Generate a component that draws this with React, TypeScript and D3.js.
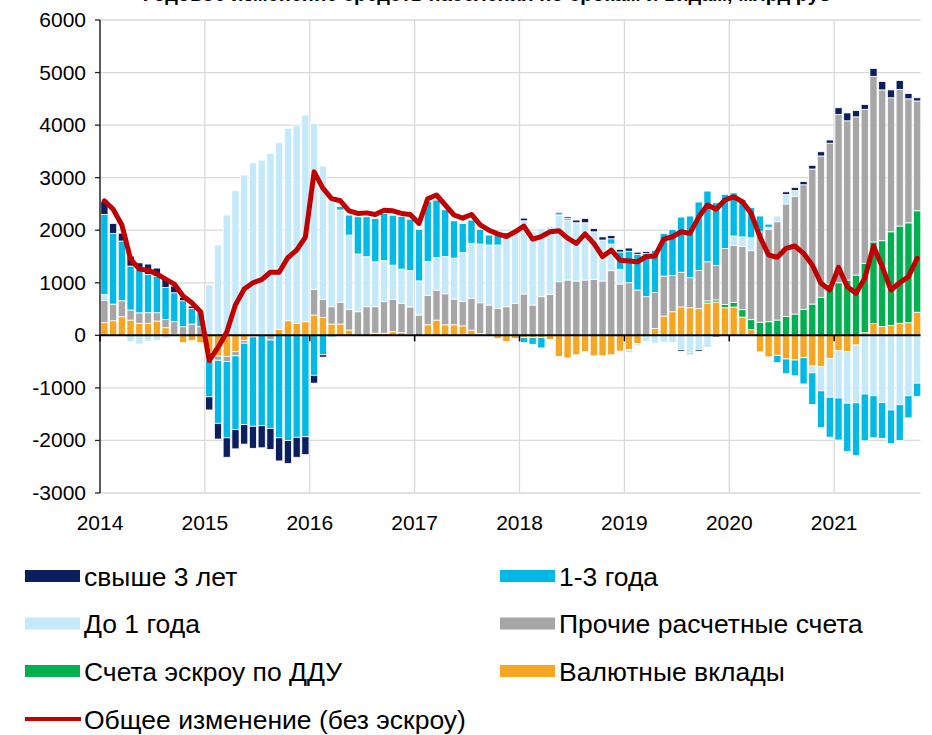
import React from "react";
import * as d3 from "d3";

const yearLabels = ["2014", "2015", "2016", "2017", "2018", "2019", "2020", "2021"];
const yTicks = [-3000, -2000, -1000, 0, 1000, 2000, 3000, 4000, 5000, 6000];

// Валютные вклады
const valuta = [240, 278, 354, 290, 228, 228, 272, 145, 20, -140, -100, -140,
  -320, -394, -400, -310, -100, -30, 0, 0, 114, 278, 228, 259,
  386, 342, 215, 215, 101, 0, 0, 40, 40, 70, 50, 20,
  0, 200, 290, 200, 200, 180, 100, 30, 0, -60, -120, -60,
  -40, -40, -40, -80, -400, -430, -370, -310, -390, -390, -370, -300,
  -270, -160, 0, 133, 367, 449, 540, 525, 507, 615, 634, 525,
  538, 348, 108, -315, -410, -380, -450, -470, -425, -584, -596, -438,
  -292, -311, -184, 50, 228, 170, 190, 230, 240, 440];
// Счета эскроу по ДДУ
const escrow = [0, 0, 0, 0, 0, 0, 0, 0, 0, 0, 0, 0,
  0, 0, 0, 0, 0, 0, 0, 0, 0, 0, 0, 0,
  0, 0, 0, 0, 0, 0, 0, 0, 0, 0, 0, 0,
  0, 0, 0, 0, 0, 0, 0, 0, 0, 0, 0, 0,
  0, 0, 0, 0, 0, 0, 0, 0, 0, 0, 0, 0,
  0, 0, 0, 0, 0, 0, 0, 0, 0, 40, 40, 60,
  90, 140, 190, 250, 259, 291, 360, 405, 495, 595, 723, 976,
  1000, 1052, 1147, 1320, 1550, 1630, 1780, 1850, 1900, 1930];
// Прочие расчетные счета
const prochie = [420, 317, 304, 192, 200, 202, 158, 159, 240, 164, 215, 164,
  -150, -80, -100, -80, -50, 0, 0, -90, 0, 0, 0, 0,
  489, 343, 329, 413, 393, 449, 544, 504, 600, 615, 560, 520,
  386, 558, 571, 590, 489, 462, 604, 590, 576, 513, 544, 608,
  786, 576, 735, 780, 1020, 1052, 1033, 1052, 1065, 1033, 1230, 976,
  1001, 862, 735, 685, 760, 692, 660, 571, 729, 745, 658, 1065,
  1084, 1205, 1312, 1720, 1757, 1870, 2140, 2240, 2370, 2570, 2690, 2680,
  3200, 3030, 3010, 2930, 3150, 2870, 2550, 2600, 2360, 2090];
// До 1 года
const do1 = [120, 0, 0, -120, -165, -110, -100, -60, -20, 0, 0, 0,
  960, 1718, 2289, 2751, 3050, 3284, 3335, 3463, 3550, 3660, 3773, 3932,
  3158, 2536, 2026, 1756, 1414, 1098, 951, 856, 780, 650, 650, 690,
  650, 647, 622, 710, 780, 933, 1046, 1117, 1142, 1205, 1364, 1409,
  1394, 1394, 1300, 1286, 1260, 1141, 1110, 1091, 905, 780, 507, 280,
  -60, -40, -120, -150, -130, -140, -270, -340, -270, -190, 0, 0,
  178, 180, 250, 0, 40, 110, 180, 110, 0, -130, -460, -740,
  -900, -980, -1100, -1117, -1150, -1280, -1420, -1320, -1150, -910];
// 1-3 года
const god13 = [1520, 1345, 1136, 836, 826, 730, 700, 609, 550, 494, 298, 285,
  -700, -1200, -1450, -1400, -1550, -1700, -1720, -1680, -1950, -2000, -1940, -1930,
  -760, -370, -30, 70, 380, 709, 761, 824, 900, 950, 1000, 980,
  980, 1141, 1090, 888, 709, 552, 443, 280, 190, 209, 0, 0,
  -100, -130, -200, 0, 30, 30, 0, 0, 0, 0, 100, 330,
  600, 680, 820, 800, 810, 875, 1050, 1174, 1300, 1345, 1190, 1033,
  820, 713, 570, 300, 60, -140, -280, -300, -500, -600, -700, -760,
  -800, -920, -1000, -890, -800, -680, -640, -680, -420, -250];
// свыше 3 лет
const svyshe3 = [250, 190, 150, 190, 125, 196, 150, 152, 128, 65, 44, 20,
  -250, -300, -370, -370, -370, -420, -420, -400, -440, -440, -380, -340,
  -150, -45, 0, 0, 0, 0, 0, 0, 0, 0, 0, 0,
  0, 0, 0, 0, 0, 0, 0, 0, 0, 20, 40, 0,
  50, 0, 0, 0, 30, 30, 50, 80, 60, 60, 60, 50,
  60, 40, 40, 0, 0, 0, -30, -20, -30, -20, -30, 0,
  0, 0, 0, 0, 0, 0, 50, 60, 60, 70, 80, 60,
  130, 150, 120, 90, 150, 160, 150, 170, 100, 60];
// Общее изменение (без эскроу)
const total = [2560, 2400, 2100, 1450, 1260, 1240, 1170, 1070, 975, 750, 620, 450,
  -480, -230, 60, 580, 880, 1000, 1060, 1200, 1200, 1480, 1620, 1870,
  3110, 2800, 2600, 2560, 2370, 2320, 2330, 2300, 2380, 2370, 2320, 2300,
  2130, 2600, 2670, 2480, 2290, 2230, 2300, 2100, 2000, 1930, 1880, 1970,
  2080, 1830, 1880, 1970, 1990, 1850, 1750, 1930, 1750, 1500, 1620, 1430,
  1414, 1400, 1500, 1510, 1830, 1876, 1970, 1940, 2250, 2480, 2400, 2574,
  2637, 2542, 2321, 1876, 1528, 1484, 1655, 1699, 1560, 1338, 989, 862,
  1294, 925, 799, 1084, 1699, 1306, 862, 1001, 1116, 1465];

const seriesKeys = ["valuta", "escrow", "prochie", "do1", "god13", "svyshe3"];
const seriesColors: Record<string, string> = {
  valuta: "#F6A623",
  escrow: "#00B050",
  prochie: "#A6A6A6",
  do1: "#C4E9FB",
  god13: "#00B9E7",
  svyshe3: "#0B1F5E",
};
const legendItems = [
  { key: "svyshe3", label: "свыше 3 лет" },
  { key: "god13", label: "1-3 года" },
  { key: "do1", label: "До 1 года" },
  { key: "prochie", label: "Прочие расчетные счета" },
  { key: "escrow", label: "Счета эскроу по ДДУ" },
  { key: "valuta", label: "Валютные вклады" },
];

export default function App() {
  const W = 932, H = 735;
  const left = 100, top = 20, bottom = 493;
  const N = total.length;
  const step = 8.74;
  const x = d3.scaleLinear().domain([0, N]).range([left, left + N * step]);
  const y = d3.scaleLinear().domain([-3000, 6000]).range([bottom, top]);
  const rows = d3.range(N).map((i) => ({
    i,
    valuta: valuta[i], escrow: escrow[i], prochie: prochie[i],
    do1: do1[i], god13: god13[i], svyshe3: svyshe3[i],
  }));
  const stacked = d3.stack<any>().keys(seriesKeys).offset(d3.stackOffsetDiverging)(rows);
  const line = d3.line<number>().x((_, i) => x(i + 0.5)).y((d) => y(d)).curve(d3.curveLinear);
  const barW = 7.2;
  const font = "Arial, 'Liberation Sans', sans-serif";
  const yearX = yearLabels.map((_, k) => x(k * 12));
  const plotRight = x(N) - 1;
  const legendFont = 26.5;

  return (
    <svg width={W} height={H} style={{ position: "absolute", left: 0, top: 0, background: "#fff" }} fontFamily={font}>
      <text x={487} y={0.5} textAnchor="middle" fontSize={20} fontWeight="bold" fill="#000">
        Годовое изменение средств населения по срокам и видам, млрд руб
      </text>
      {/* grid */}
      {yTicks.map((t) => (
        <line key={"g" + t} x1={left} x2={plotRight} y1={y(t)} y2={y(t)} stroke="#D9D9D9" strokeWidth={1.3} />
      ))}
      {yearX.slice(1).map((xx, k) => (
        <line key={"v" + k} x1={xx} x2={xx} y1={top} y2={bottom} stroke="#D9D9D9" strokeWidth={1.3} />
      ))}
      {/* bars */}
      {stacked.map((s) => (
        <g key={s.key} fill={seriesColors[s.key]}>
          {s.map((d, i) => {
            const y0 = y(d[0]), y1 = y(d[1]);
            const h = Math.abs(y0 - y1);
            if (h < 0.01) return null;
            return (
              <rect key={i} x={x(i + 0.5) - barW / 2} width={barW} y={Math.min(y0, y1)} height={h}
                stroke="#fff" strokeWidth={0.8} />
            );
          })}
        </g>
      ))}
      {/* axes */}
      <line x1={left} x2={left} y1={top} y2={bottom} stroke="#262626" strokeWidth={1.5} />
      {yTicks.map((t) => (
        <g key={"yt" + t}>
          <line x1={left - 5} x2={left} y1={y(t)} y2={y(t)} stroke="#262626" strokeWidth={1.3} />
          <text x={86} y={y(t) + 7} textAnchor="end" fontSize={21} fill="#000">{t}</text>
        </g>
      ))}
      <line x1={left} x2={plotRight} y1={y(0)} y2={y(0)} stroke="#000" strokeWidth={2} />
      {yearX.map((xx, k) => (
        <g key={"xt" + k}>
          <line x1={xx} x2={xx} y1={y(0)} y2={y(0) + 6} stroke="#000" strokeWidth={1.5} />
          <text x={xx} y={530} textAnchor="middle" fontSize={21} fill="#000">{yearLabels[k]}</text>
        </g>
      ))}
      {/* total line */}
      <path d={line(total) || ""} fill="none" stroke="#C00000" strokeWidth={5} strokeLinejoin="round" strokeLinecap="round" />
      {/* legend */}
      {legendItems.map((it, k) => {
        const col = k % 2, row = Math.floor(k / 2);
        const lx = col === 0 ? 25 : 500;
        const ly = 576 + row * 47.5;
        return (
          <g key={it.key}>
            <rect x={lx} y={ly - 6} width={55} height={12} fill={seriesColors[it.key]} />
            <text x={lx + 59} y={ly + 9.5} fontSize={legendFont} fill="#000">{it.label}</text>
          </g>
        );
      })}
      <line x1={25} x2={81} y1={719} y2={719} stroke="#C00000" strokeWidth={4} />
      <text x={84} y={728.5} fontSize={legendFont} fill="#000">Общее изменение (без эскроу)</text>
    </svg>
  );
}
